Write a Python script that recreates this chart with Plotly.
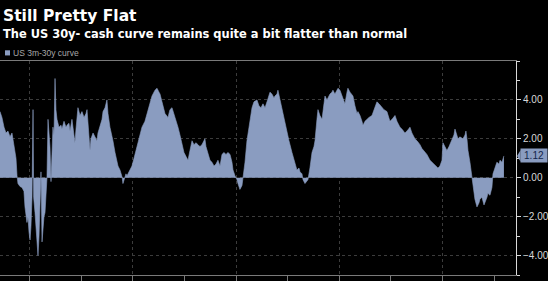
import plotly.graph_objects as go

title_text = "Still Pretty Flat"
subtitle_text = "The US 30y- cash curve remains quite a bit flatter than normal"
series_name = "US 3m-30y curve"
last_value = 1.12
y_ticks = [-4, -2, 0, 2, 4]

years = [
    1977.14, 1977.33, 1977.53, 1977.72, 1977.91, 1978.11, 1978.30, 1978.40, 1978.59, 1978.69,
    1978.79, 1978.88, 1979.08, 1979.27, 1979.46, 1979.56, 1979.75, 1979.85, 1979.95, 1980.05,
    1980.14, 1980.24, 1980.34, 1980.40, 1980.53, 1980.63, 1980.72, 1980.82, 1980.92, 1981.01,
    1981.11, 1981.21, 1981.30, 1981.40, 1981.50, 1981.60, 1981.69, 1981.79, 1981.89, 1981.98,
    1982.08, 1982.18, 1982.27, 1982.37, 1982.47, 1982.56, 1982.66, 1982.85, 1983.05, 1983.14,
    1983.34, 1983.53, 1983.63, 1983.82, 1983.92, 1984.11, 1984.21, 1984.40, 1984.50, 1984.69,
    1984.89, 1985.08, 1985.28, 1985.47, 1985.57, 1985.66, 1985.86, 1985.95, 1986.15, 1986.34,
    1986.53, 1986.63, 1986.83, 1987.02, 1987.12, 1987.31, 1987.50, 1987.60, 1987.79, 1987.99,
    1988.08, 1988.28, 1988.57, 1988.76, 1988.96, 1989.05, 1989.15, 1989.34, 1989.44, 1989.63,
    1989.92, 1990.12, 1990.41, 1990.70, 1990.89, 1991.18, 1991.38, 1991.67, 1991.86, 1992.15,
    1992.35, 1992.54, 1992.64, 1992.83, 1993.12, 1993.41, 1993.60, 1993.80, 1993.99, 1994.19,
    1994.38, 1994.57, 1994.77, 1994.96, 1995.15, 1995.35, 1995.54, 1995.74, 1995.93, 1996.12,
    1996.32, 1996.51, 1996.70, 1996.90, 1996.99, 1997.09, 1997.28, 1997.48, 1997.67, 1997.87,
    1998.06, 1998.25, 1998.45, 1998.64, 1998.83, 1999.03, 1999.22, 1999.42, 1999.61, 1999.71,
    1999.90, 2000.09, 2000.19, 2000.38, 2000.58, 2000.67, 2000.87, 2001.06, 2001.26, 2001.55,
    2001.74, 2002.03, 2002.22, 2002.42, 2002.61, 2002.81, 2003.00, 2003.19, 2003.29, 2003.48,
    2003.68, 2003.77, 2003.97, 2004.06, 2004.26, 2004.45, 2004.65, 2004.94, 2005.13, 2005.42,
    2005.61, 2005.90, 2006.10, 2006.20, 2006.39, 2006.49, 2006.68, 2006.87, 2006.97, 2007.16,
    2007.36, 2007.55, 2007.65, 2007.84, 2007.94, 2008.13, 2008.33, 2008.52, 2008.62, 2008.81,
    2009.10, 2009.29, 2009.39, 2009.58, 2009.88, 2010.07, 2010.26, 2010.36, 2010.55, 2010.75,
    2010.84, 2011.04, 2011.33, 2011.52, 2011.72, 2011.81, 2012.01, 2012.20, 2012.30, 2012.49,
    2012.68, 2012.88, 2013.17, 2013.36, 2013.65, 2013.85, 2014.14, 2014.33, 2014.62, 2014.81,
    2014.91, 2015.11, 2015.40, 2015.59, 2015.88, 2016.07, 2016.36, 2016.56, 2016.85, 2017.04,
    2017.33, 2017.53, 2017.82, 2018.01, 2018.30, 2018.49, 2018.79, 2018.98, 2019.27, 2019.37,
    2019.56, 2019.75, 2019.95, 2020.04, 2020.24, 2020.43, 2020.63, 2020.92, 2021.11, 2021.21,
    2021.40, 2021.50, 2021.69, 2021.98, 2022.18, 2022.27, 2022.37, 2022.47, 2022.66, 2022.85,
    2022.95, 2023.14, 2023.34, 2023.53, 2023.63, 2023.82, 2024.02, 2024.11, 2024.31, 2024.40,
    2024.60, 2024.79, 2024.89, 2025.08, 2025.27, 2025.47, 2025.57, 2025.76, 2025.95,
]

curve_values = [
    3.4, 3.1, 2.6, 2.3, 2.4, 2.1, 2.3, 2.0, 1.4, 1.0,
    0.1, -0.3, -0.45, -0.5, -0.7, -1.5, -2.3, -2.0, -2.8, -3.2,
    -2.5, -1.0, 3.5, -1.0, -1.8, -2.5, -3.5, -4.0, -3.0, -1.5,
    0.3, -3.3, -2.5, -2.0, -1.8, -0.5, 0.0, 3.0, 2.0, 1.6,
    -0.2, 1.8, 2.6, 2.2, 5.1, 3.5, 3.0, 2.6, 2.7, 2.5,
    2.9, 2.6, 2.7, 2.8, 2.4, 3.0, 2.6, 1.8, 2.5, 3.6,
    3.2, 3.4, 3.1, 3.3, 3.5, 2.8, 1.4, 2.0, 2.3, 2.1,
    1.9, 2.3, 2.6, 3.0, 3.4, 3.6, 4.0, 3.3, 2.6, 2.2,
    1.9, 1.3, 0.6, 0.4, 0.05, -0.3, -0.1, 0.2, 0.1, 0.3,
    0.6, 1.0, 1.6, 2.1, 2.6, 2.9, 3.3, 3.8, 4.2, 4.5,
    4.6, 4.4, 4.3, 3.9, 3.3, 3.1, 3.5, 3.6, 3.3, 3.0,
    2.6, 2.2, 1.8, 1.3, 1.1, 0.9, 1.4, 1.9, 1.7, 1.8,
    1.7, 1.6, 1.7, 1.9, 2.0, 1.6, 1.3, 0.9, 0.8, 0.6,
    0.7, 0.9, 0.6, 1.2, 1.3, 1.2, 1.3, 1.2, 0.8, 0.4,
    0.1, -0.1, -0.3, -0.6, -0.4, -0.1, 0.8, 1.9, 2.6, 3.6,
    3.9, 4.0, 3.7, 3.6, 3.8, 3.6, 3.9, 4.2, 4.4, 4.3,
    4.1, 4.2, 4.3, 4.5, 4.0, 3.6, 3.0, 2.3, 1.9, 1.3,
    0.9, 0.4, 0.5, 0.3, 0.2, -0.1, -0.3, -0.2, -0.1, 0.5,
    1.3, 1.6, 1.9, 3.0, 3.5, 3.2, 3.0, 3.8, 4.2, 4.0,
    4.3, 4.4, 4.5, 4.3, 4.6, 4.5, 4.2, 4.0, 3.8, 4.4,
    4.6, 4.4, 4.2, 3.7, 3.3, 3.4, 3.2, 2.9, 2.7, 2.9,
    3.0, 3.1, 3.2, 3.5, 3.9, 3.8, 3.6, 3.5, 3.4, 3.1,
    2.9, 3.0, 3.2, 2.9, 2.6, 2.5, 2.3, 2.4, 2.6, 2.3,
    2.0, 1.9, 1.7, 1.5, 1.3, 1.2, 0.9, 0.8, 0.7, 0.6,
    0.5, 0.6, 0.9, 1.8, 1.6, 1.4, 1.6, 2.0, 2.2, 2.5,
    2.2, 2.0, 2.1, 2.0, 2.2, 2.4, 2.0, 1.4, 0.8, 0.05,
    -0.6, -1.1, -1.5, -1.3, -1.1, -1.0, -1.4, -1.3, -1.0, -0.8,
    -0.9, -0.5, 0.2, 0.5, 0.8, 0.7, 0.9, 0.8, 1.12,
]

FILL = "#8a9cc0"
GRID = "#3c3c3c"
AXIS = "#7a7a7a"
TXT = "#d8d8d8"

fig = go.Figure(
    go.Scatter(
        x=years, y=curve_values, mode="lines", fill="tozeroy",
        fillcolor=FILL, line=dict(color=FILL, width=0.6), hoverinfo="skip",
    )
)

fig.update_layout(
    width=548, height=281,
    margin=dict(l=0, r=32, t=61, b=6),
    paper_bgcolor="black", plot_bgcolor="black",
    showlegend=False,
)

fig.update_xaxes(
    range=[1977.14, 2027.12], tick0=1980, dtick=10,
    ticks="outside", ticklen=5, tickcolor=AXIS, showticklabels=False,
    showgrid=True, gridcolor=GRID, griddash="dot", gridwidth=1,
    showline=True, linecolor=AXIS, linewidth=1, mirror=True, zeroline=False,
    minor=dict(tick0=1980, dtick=5, ticks="outside", ticklen=5, tickcolor=AXIS, showgrid=False),
)

fig.update_yaxes(
    side="right", range=[-5, 6], tickvals=y_ticks, tickformat=".2f",
    ticks="outside", ticklen=4, tickcolor=TXT,
    showline=True, linecolor=TXT, linewidth=1,
    showgrid=True, gridcolor=GRID, griddash="dot", zeroline=False,
    tickfont=dict(family="Liberation Sans", size=10, color=TXT),
    minor=dict(tick0=0, dtick=1, ticks="outside", ticklen=3, tickcolor=TXT, showgrid=False),
)

# Titles
fig.add_annotation(
    text=f"<b>{title_text}</b>", xref="paper", yref="paper", x=0.0, y=1.212,
    xanchor="left", yanchor="middle", showarrow=False, xshift=1,
    font=dict(family="DejaVu Sans", size=15.5, color="white"),
)
fig.add_annotation(
    text=f"<b>{subtitle_text}</b>", xref="paper", yref="paper", x=0.0, y=1.128,
    xanchor="left", yanchor="middle", showarrow=False, xshift=1,
    font=dict(family="DejaVu Sans", size=11.45, color="white"),
)

# Legend
fig.add_shape(
    type="rect", xref="paper", yref="paper", x0=0.0097, x1=0.0194, y0=1.026, y1=1.05,
    fillcolor=FILL, line=dict(width=0),
)
fig.add_annotation(
    text=series_name, xref="paper", yref="paper", x=0.021, y=1.038,
    xanchor="left", yanchor="middle", showarrow=False,
    font=dict(family="Liberation Sans", size=8.5, color="#a8a8a8"),
)

# Last value label
fig.add_shape(
    type="path", xref="paper", yref="y",
    path=f"M 1.002,{last_value} L 1.009,{last_value + 0.3} L 1.009,{last_value - 0.3} Z",
    fillcolor=FILL, line=dict(width=0),
)
fig.add_annotation(
    text=f"{last_value:.2f}", xref="paper", yref="y", x=1.0, y=last_value,
    xanchor="left", yanchor="middle", xshift=4, showarrow=False,
    bgcolor=FILL, borderpad=1, width=24,
    font=dict(family="Liberation Sans", size=10, color="#13254a"),
)

fig.write_html("out.html")
